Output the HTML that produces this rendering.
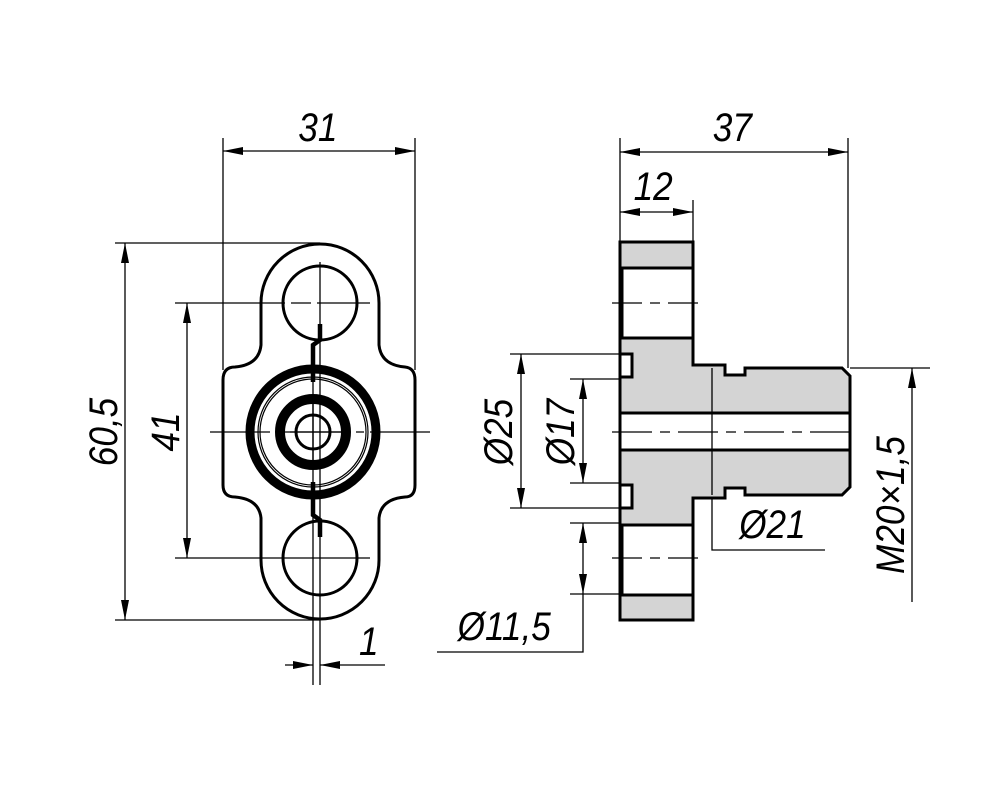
<!DOCTYPE html>
<html><head><style>body{margin:0;background:#fff}svg{display:block}text{font-family:"Liberation Sans",sans-serif;font-style:italic;font-size:40px;fill:#000}</style></head><body>
<svg width="1001" height="801" viewBox="0 0 1001 801" xmlns="http://www.w3.org/2000/svg">
<defs>
<marker id="a" viewBox="0 0 20 8" refX="20" refY="4" markerWidth="20" markerHeight="8" markerUnits="userSpaceOnUse" orient="auto-start-reverse"><path d="M0,0L20,4L0,8z" fill="#000"/></marker>
</defs>
<g stroke="#000" stroke-width="1.3" fill="none">
<line x1="223" y1="138" x2="223" y2="370"/><line x1="415" y1="138" x2="415" y2="370"/>
<line x1="223" y1="151" x2="415" y2="151" marker-start="url(#a)" marker-end="url(#a)"/>
<line x1="115" y1="243" x2="320" y2="243"/><line x1="115" y1="620" x2="320" y2="620"/>
<line x1="125" y1="243" x2="125" y2="620" marker-start="url(#a)" marker-end="url(#a)"/>
<line x1="175" y1="303" x2="370" y2="303" stroke-dasharray="110,6,20,6"/><line x1="175" y1="558" x2="370" y2="558"/>
<line x1="187" y1="303" x2="187" y2="558" marker-start="url(#a)" marker-end="url(#a)"/>
<line x1="210" y1="432" x2="430" y2="432" stroke-dasharray="60,6,8,6"/>
<line x1="313" y1="370" x2="313" y2="685"/><line x1="320" y1="262" x2="320" y2="685"/>
<line x1="285" y1="665" x2="313" y2="665" marker-end="url(#a)"/><line x1="385" y1="665" x2="320" y2="665" marker-end="url(#a)"/>
<line x1="620" y1="138" x2="620" y2="242"/><line x1="848" y1="138" x2="848" y2="368"/>
<line x1="620" y1="152" x2="848" y2="152" marker-start="url(#a)" marker-end="url(#a)"/>
<line x1="693" y1="200" x2="693" y2="242"/>
<line x1="620" y1="212" x2="693" y2="212" marker-start="url(#a)" marker-end="url(#a)"/>
<line x1="510" y1="354" x2="620" y2="354"/><line x1="510" y1="508" x2="620" y2="508"/>
<line x1="521" y1="354" x2="521" y2="508" marker-start="url(#a)" marker-end="url(#a)"/>
<line x1="570" y1="379" x2="620" y2="379"/><line x1="570" y1="483" x2="620" y2="483"/>
<line x1="583" y1="379" x2="583" y2="483" marker-start="url(#a)" marker-end="url(#a)"/>
<line x1="570" y1="523" x2="620" y2="523"/><line x1="570" y1="594" x2="620" y2="594"/>
<line x1="583" y1="558" x2="583" y2="523" marker-end="url(#a)"/><line x1="583" y1="558" x2="583" y2="594" marker-end="url(#a)"/>
<polyline points="583,594 583,652 437,652"/>
<line x1="712" y1="368" x2="712" y2="495" marker-start="url(#a)" marker-end="url(#a)"/>
<polyline points="712,495 712,550 825,550"/>
<line x1="850" y1="368" x2="930" y2="368"/>
<line x1="912" y1="368" x2="912" y2="602" marker-start="url(#a)"/>
</g>
<g stroke="#000" stroke-width="3" fill="none">
<path d="M261,303 A59,59 0 0 1 379,303 L379,345 Q381,365 405,367 Q415,368 415,380 L415,485 Q415,497 405,497 Q381,499 379,518 L379,560 A59,59 0 0 1 261,560 L261,518 Q259,499 235,497 Q223,497 223,485 L223,380 Q223,367 235,367 Q259,365 261,345 Z"/>
<circle cx="320" cy="303" r="37"/><circle cx="320" cy="558" r="37"/>
<circle cx="313" cy="432" r="63" stroke-width="9"/>
<circle cx="313" cy="432" r="55" stroke-width="1.2"/><circle cx="313" cy="432" r="53" stroke-width="1.2"/>
<circle cx="313" cy="432" r="33" stroke-width="10"/>
<circle cx="313" cy="432" r="17"/>
<path d="M320,324 L320,340 L313,345 L313,382" stroke-width="4.5"/>
<path d="M313,482 L313,515 L320,520 L320,537" stroke-width="4.5"/>
</g>
<g stroke="#000" stroke-width="1.3"><line x1="313" y1="400" x2="313" y2="464"/><line x1="280" y1="432" x2="346" y2="432"/></g>
<g stroke="#000" stroke-width="3" fill="#d4d4d4">
<path d="M620,242 L693,242 L693,365 L725,365 L725,375 L745,375 L745,368 L842,368 L850,376 L850,487 L842,495 L745,495 L745,488 L725,488 L725,498 L693,498 L693,620 L620,620 Z"/>
</g>
<g stroke="#000" stroke-width="3" fill="#fff">
<rect x="622" y="268" width="71" height="70"/><rect x="622" y="525" width="71" height="70"/>
<rect x="620" y="413" width="230" height="37"/>
<rect x="620" y="354" width="12" height="23"/><rect x="620" y="485" width="12" height="23"/>
</g>
<g stroke="#000" stroke-width="1.3">
<line x1="612" y1="303" x2="705" y2="303" stroke-dasharray="30,8,10,8"/>
<line x1="612" y1="558" x2="705" y2="558" stroke-dasharray="30,8,10,8"/>
<line x1="612" y1="432" x2="858" y2="432" stroke-dasharray="40,8,10,8"/>
<line x1="712" y1="368" x2="712" y2="495"/>
</g>
<g transform="scale(0.88,1)">
<text x="339" y="141">31</text>
<text x="810" y="141">37</text>
<text x="720" y="200">12</text>
<text x="408" y="655">1</text>
<text x="520" y="640">Ø11,5</text>
<text x="840" y="538">Ø21</text>
</g>
<text transform="translate(117,432) rotate(-90) scale(0.88,1)" text-anchor="middle">60,5</text>
<text transform="translate(179,432) rotate(-90) scale(0.88,1)" text-anchor="middle">41</text>
<text transform="translate(512,432) rotate(-90) scale(0.88,1)" text-anchor="middle">Ø25</text>
<text transform="translate(574,432) rotate(-90) scale(0.88,1)" text-anchor="middle">Ø17</text>
<text transform="translate(904,505) rotate(-90) scale(0.88,1)" text-anchor="middle">M20×1,5</text>
</svg>
</body></html>
